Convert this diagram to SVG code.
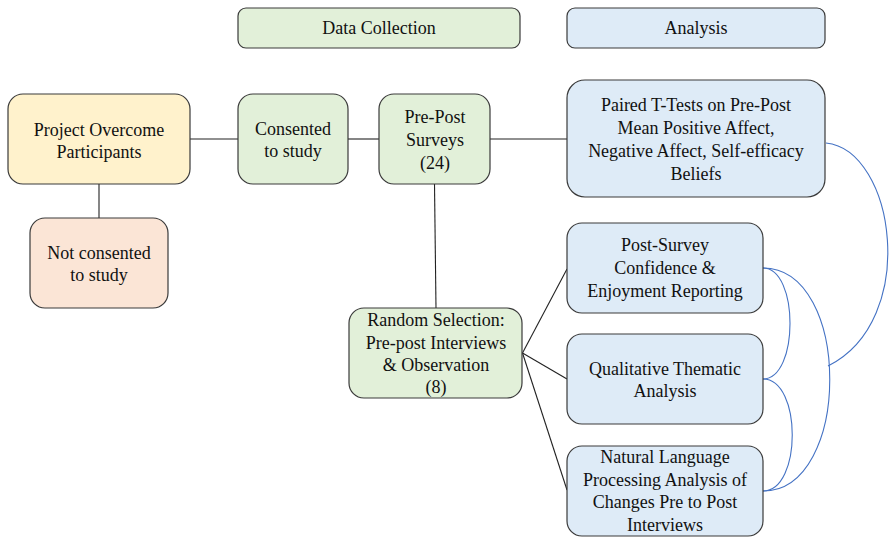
<svg xmlns="http://www.w3.org/2000/svg" width="890" height="538" viewBox="0 0 890 538">
<style>
.box{stroke:#3a3a3a;stroke-width:1.2}
.yel{fill:#fff2cc}.grn{fill:#e2f0d9}.blu{fill:#deebf7}.pnk{fill:#fbe5d6}
text{font-family:"Liberation Serif","Times New Roman",serif;font-size:18px;fill:#111;text-anchor:middle}
.ln{stroke:#222;stroke-width:1.1;fill:none}
.cv{stroke:#4472c4;stroke-width:1.1;fill:none}
</style>
<rect width="890" height="538" fill="#ffffff"/>
<g id="connectors">
<line class="ln" x1="190" y1="139" x2="238" y2="139"/>
<line class="ln" x1="348" y1="139" x2="379" y2="139"/>
<line class="ln" x1="490" y1="139" x2="567" y2="139"/>
<line class="ln" x1="99" y1="184" x2="99" y2="218"/>
<line class="ln" x1="434.5" y1="184" x2="436" y2="308"/>
<line class="ln" x1="522.5" y1="353" x2="567" y2="269"/>
<line class="ln" x1="522.5" y1="353" x2="567" y2="379"/>
<line class="ln" x1="522.5" y1="353" x2="567" y2="490"/>
<path class="cv" d="M763,268 C799,268 799,379 763,379"/>
<path class="cv" d="M763,379 C802,379 802,491 763,491"/>
<path class="cv" d="M763,268 C852,268 852,491 763,491"/>
<path class="cv" d="M826,143 C895,150 920,320 828,366"/>
</g>
<g id="data-collection">
<rect class="box grn" x="238" y="8" width="282" height="40" rx="8"/>
<text x="379" y="34">Data Collection</text>
</g>
<g id="analysis">
<rect class="box blu" x="567" y="8" width="258" height="40" rx="8"/>
<text x="696" y="34">Analysis</text>
</g>
<g id="project-overcome">
<rect class="box yel" x="8" y="94" width="182" height="90" rx="15"/>
<text x="99" y="136">Project Overcome</text>
<text x="99" y="158">Participants</text>
</g>
<g id="consented">
<rect class="box grn" x="238" y="94" width="110" height="90" rx="15"/>
<text x="293" y="135">Consented</text>
<text x="293" y="157">to study</text>
</g>
<g id="pre-post-surveys">
<rect class="box grn" x="379" y="94" width="111" height="90" rx="15"/>
<text x="435" y="123">Pre-Post</text>
<text x="435" y="146">Surveys</text>
<text x="435" y="169">(24)</text>
</g>
<g id="paired-t-tests">
<rect class="box blu" x="567" y="80" width="258" height="117" rx="18"/>
<text x="696" y="111">Paired T-Tests on Pre-Post</text>
<text x="696" y="134">Mean Positive Affect,</text>
<text x="696" y="157">Negative Affect, Self-efficacy</text>
<text x="696" y="180">Beliefs</text>
</g>
<g id="not-consented">
<rect class="box pnk" x="30" y="218" width="138" height="90" rx="15"/>
<text x="99" y="259">Not consented</text>
<text x="99" y="281">to study</text>
</g>
<g id="random-selection">
<rect class="box grn" x="349" y="308" width="173" height="90" rx="15"/>
<text x="436" y="326">Random Selection:</text>
<text x="436" y="349">Pre-post Interviews</text>
<text x="436" y="371">&amp; Observation</text>
<text x="436" y="393">(8)</text>
</g>
<g id="post-survey">
<rect class="box blu" x="567" y="223" width="196" height="90" rx="15"/>
<text x="665" y="251">Post-Survey</text>
<text x="665" y="274">Confidence &amp;</text>
<text x="665" y="297">Enjoyment Reporting</text>
</g>
<g id="qualitative">
<rect class="box blu" x="567" y="334" width="196" height="90" rx="15"/>
<text x="665" y="375">Qualitative Thematic</text>
<text x="665" y="397">Analysis</text>
</g>
<g id="nlp">
<rect class="box blu" x="567" y="446" width="196" height="90" rx="15"/>
<text x="665" y="463">Natural Language</text>
<text x="665" y="486">Processing Analysis of</text>
<text x="665" y="508">Changes Pre to Post</text>
<text x="665" y="531">Interviews</text>
</g>
</svg>
